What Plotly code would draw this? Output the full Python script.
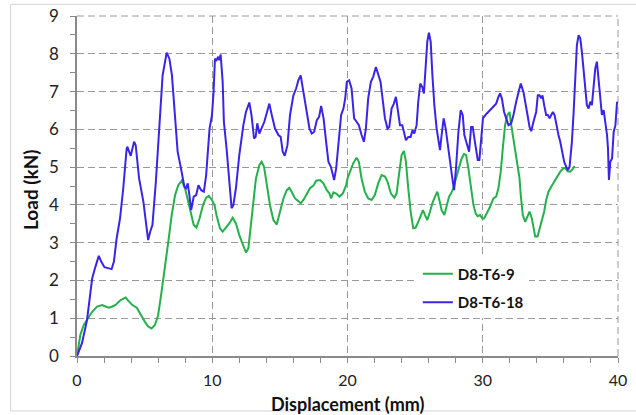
import plotly.graph_objects as go

# D8-T6-9 (green)
x_t9 = [0, 0.25, 0.5, 0.74, 1.12, 1.49, 1.86, 2.11, 2.36, 2.61, 2.85, 3.23, 3.6, 3.85, 4.09, 4.42,
        4.71, 5.01, 5.26, 5.51, 5.76, 6.0, 6.25, 6.5, 6.75, 7.0, 7.25, 7.49, 7.74, 7.99, 8.24, 8.44,
        8.63, 8.83, 9.06, 9.31, 9.55, 9.75, 9.98, 10.17, 10.32, 10.57, 10.77, 11.01, 11.26, 11.51,
        11.75, 12.0, 12.25, 12.49, 12.67, 12.84, 13.04, 13.23, 13.48, 13.65, 13.83, 14.02, 14.27,
        14.52, 14.77, 15.01, 15.26, 15.51, 15.7, 15.88, 16.12, 16.37, 16.54, 16.74, 16.99, 17.23,
        17.48, 17.68, 17.98, 18.22, 18.47, 18.67, 18.79, 18.96, 19.16, 19.41, 19.65, 19.9, 20.0,
        20.17, 20.42, 20.67, 20.84, 21.04, 21.28, 21.53, 21.78, 22.02, 22.27, 22.52, 22.77, 22.96,
        23.21, 23.46, 23.63, 23.8, 24.0, 24.17, 24.32, 24.49, 24.67, 24.86, 25.04, 25.23, 25.43,
        25.58, 25.73, 25.9, 26.1, 26.27, 26.47, 26.64, 26.79, 26.96, 27.16, 27.33, 27.51, 27.65,
        27.83, 28.02, 28.25, 28.44, 28.62, 28.77, 28.94, 29.14, 29.31, 29.48, 29.63, 29.8, 29.98,
        30.1, 30.3, 30.54, 30.79, 30.99, 31.16, 31.33, 31.48, 31.65, 31.83, 31.98, 32.07, 32.22,
        32.4, 32.57, 32.72, 32.81, 32.96, 33.14, 33.31, 33.46, 33.63, 33.75, 33.88, 34.05, 34.2,
        34.37, 34.54, 34.69, 34.86, 35.06, 35.28, 35.48, 35.73, 35.93, 36.1, 36.27, 36.47, 36.67,
        36.79]
y_t9 = [0, 0.56, 0.82, 0.95, 1.17, 1.31, 1.35, 1.31, 1.28, 1.31, 1.35, 1.48, 1.55, 1.44, 1.35, 1.28,
        1.08, 0.91, 0.78, 0.73, 0.82, 1.08, 1.7, 2.32, 3.02, 3.73, 4.26, 4.52, 4.64, 4.44, 4.08, 3.73,
        3.47, 3.4, 3.64, 3.99, 4.19, 4.24, 4.13, 3.99, 3.72, 3.38, 3.29, 3.4, 3.51, 3.66,
        3.51, 3.2, 2.94, 2.74, 2.85, 3.38, 4.08, 4.7, 5.05, 5.14, 5.01, 4.52, 3.99,
        3.6, 3.48, 3.82, 4.17, 4.39, 4.45, 4.34, 4.17, 4.1, 4.04, 4.13, 4.28, 4.44,
        4.51, 4.64, 4.66, 4.57, 4.39, 4.3, 4.17, 4.33, 4.3, 4.22, 4.3, 4.52, 4.7,
        4.88, 5.1, 5.25, 5.14, 4.7, 4.35, 4.17, 4.13, 4.26, 4.57, 4.79, 4.75, 4.61,
        4.3, 4.19, 4.3, 4.79, 5.32, 5.43, 5.14, 4.44, 3.82, 3.38, 3.4, 3.55, 3.73,
        3.86, 3.73, 3.6, 3.82, 4.04, 4.22, 4.35, 4.13, 3.86, 3.73, 3.95, 4.22, 4.3,
        4.44, 4.7, 4.96, 5.23, 5.35, 5.32, 4.96, 4.44, 4.0, 3.77, 3.7, 3.73, 3.64,
        3.64, 3.77, 3.95, 4.17, 4.22, 4.44, 4.88, 5.49, 6.11, 6.38, 6.46, 6.2, 5.85,
        5.41, 5.05, 4.7, 4.26, 3.73, 3.55, 3.69, 3.82, 3.64, 3.38, 3.16, 3.16, 3.38,
        3.55, 3.82, 4.13, 4.35, 4.48, 4.61, 4.75, 4.88, 4.96, 4.98, 4.89, 4.88, 4.96,
        5.03]

# D8-T6-18 (blue)
x_t18 = [0, 0.37, 0.74, 1.12, 1.36, 1.61, 1.79, 2.03, 2.36, 2.56, 2.73, 2.93, 3.18, 3.42, 3.67, 3.72,
         3.97, 4.22, 4.34, 4.59, 4.91, 5.09, 5.26, 5.41, 5.58, 5.83, 6.08, 6.33, 6.63, 6.83, 7.02,
         7.2, 7.44, 7.69, 7.94, 8.06, 8.19, 8.31, 8.44, 8.63, 8.81, 8.98, 9.18, 9.38, 9.55, 9.8,
         9.98, 10.1, 10.2, 10.32, 10.44, 10.52, 10.62, 10.77, 10.86, 11.06, 11.26, 11.43, 11.56,
         11.75, 12.0, 12.3, 12.49, 12.74, 12.9, 13.09, 13.21, 13.33, 13.48, 13.65, 13.85, 14.02,
         14.22, 14.4, 14.64, 14.89, 15.06, 15.21, 15.36, 15.56, 15.75, 16.0, 16.2, 16.37, 16.54,
         16.74, 16.99, 17.19, 17.36, 17.53, 17.73, 17.9, 18.05, 18.23, 18.42, 18.59, 18.77, 18.89,
         19.01, 19.16, 19.33, 19.53, 19.7, 19.83, 19.95, 20.12, 20.3, 20.49, 20.67, 20.84, 21.04,
         21.21, 21.36, 21.53, 21.73, 21.9, 22.1, 22.27, 22.44, 22.59, 22.77, 22.96, 23.09, 23.26,
         23.43, 23.58, 23.7, 23.88, 24.05, 24.17, 24.32, 24.49, 24.67, 24.81, 24.94, 25.11, 25.23,
         25.38, 25.53, 25.65, 25.78, 25.9, 26.02, 26.15, 26.27, 26.42, 26.59, 26.72, 26.84, 26.96,
         27.11, 27.26, 27.41, 27.58, 27.75, 27.88, 28.02, 28.2, 28.37, 28.52, 28.64, 28.81, 28.99,
         29.14, 29.26, 29.38, 29.51, 29.63, 29.75, 29.88, 30.02, 30.3, 30.54, 30.79, 30.99, 31.16,
         31.28, 31.41, 31.58, 31.73, 31.9, 32.1, 32.27, 32.47, 32.64, 32.81, 33.01, 33.16, 33.31,
         33.46, 33.58, 33.75, 33.95, 34.07, 34.2, 34.32, 34.42, 34.54, 34.69, 34.81, 34.94, 35.06,
         35.19, 35.31, 35.43, 35.6, 35.73, 35.85, 36.02, 36.17, 36.3, 36.42, 36.59, 36.72, 36.84,
         36.96, 37.09, 37.21, 37.33, 37.46, 37.58, 37.7, 37.83, 37.95, 38.07, 38.2, 38.32, 38.44,
         38.57, 38.69, 38.81, 38.94, 39.06, 39.19, 39.26, 39.33, 39.43, 39.56, 39.68, 39.81, 39.93]
y_t18 = [0, 0.34, 0.95, 2.05, 2.36, 2.65, 2.5, 2.35, 2.32, 2.3, 2.5, 3.11, 3.64, 4.44, 5.49, 5.54,
         5.3, 5.67, 5.58, 4.7, 4.08, 3.55, 3.07, 3.29, 3.47, 4.61, 6.11, 7.43, 8.03, 7.87, 7.43,
         6.64, 5.41, 4.96, 4.48, 4.44, 4.57, 4.26, 3.86, 4.22, 4.26, 4.52, 4.39, 4.35, 4.79, 6.02,
         6.38, 7.0, 7.87, 7.83, 7.92, 7.83, 7.98, 7.26, 6.2, 5.49, 4.61, 3.91, 3.99,
         4.44, 5.32, 6.11, 6.46, 6.71, 6.38, 5.76, 5.8, 6.16, 5.89, 6.02, 6.2, 6.42,
         6.68, 6.38, 6.02, 5.85, 5.8, 5.41, 5.3, 5.58, 6.38, 6.9, 7.08, 7.3, 7.43,
         6.99, 6.46, 6.02, 5.89, 5.93, 6.24, 6.33, 6.62, 6.29, 5.67, 5.14, 5.01, 4.79,
         4.66, 4.96, 5.67, 6.38, 6.55, 6.82, 7.26, 7.3, 7.08, 6.29, 6.2, 6.11, 5.85,
         5.67, 6.02, 6.82, 7.26, 7.39, 7.65, 7.48, 7.26, 6.82, 6.29, 6.02, 6.06, 6.55,
         6.68, 6.86, 6.51, 6.11, 6.11, 5.89, 5.71, 5.8, 5.8, 5.98, 5.89, 6.11, 6.73,
         7.21, 7.12, 6.95, 7.7, 8.32, 8.56, 8.32, 7.48, 6.64, 6.02, 5.67, 5.45, 5.85,
         6.29, 6.02, 5.58, 5.14, 4.7, 4.39, 4.96, 5.93, 6.51, 6.38, 5.85, 5.63, 5.41,
         6.06, 6.06, 5.76, 5.49, 5.19, 5.19, 5.67, 6.3, 6.42, 6.51, 6.6, 6.68, 6.86,
         6.95, 6.82, 6.46, 6.29, 6.11, 6.16, 6.38, 6.73, 6.99, 7.21, 6.99, 6.73, 6.38,
         6.06, 5.95, 6.2, 6.46, 6.9, 6.9, 6.82, 6.9, 6.64, 6.38, 6.38, 6.29, 6.38,
         6.46, 6.38, 6.11, 5.85, 5.67, 5.41, 5.14, 5.01, 4.92, 5.01, 5.67, 6.46, 7.52,
         8.23, 8.49, 8.41, 8.05, 7.61, 7.08, 6.64, 6.55, 6.73, 6.64, 7.26, 7.61, 7.79,
         7.26, 6.73, 6.38, 6.51, 6.2, 5.85, 5.49, 4.66, 5.14, 5.23, 5.93, 6.11, 6.73]

x_ticks = [0, 10, 20, 30, 40]
y_ticks = [0, 1, 2, 3, 4, 5, 6, 7, 8, 9]
x_title = "Displacement (mm)"
y_title = "Load (kN)"

BLUE = "#3a24e8"
GREEN = "#24b14c"
FONT = "Lato"
GRIDC = "#9a9a9a"
GRIDDASH = "7px,4px"

fig = go.Figure()
fig.add_trace(go.Scatter(x=x_t9, y=y_t9, mode="lines", name="D8-T6-9",
                         line=dict(color=GREEN, width=2), legendgroup="a"))
fig.add_trace(go.Scatter(x=x_t18, y=y_t18, mode="lines", name="D8-T6-18",
                         line=dict(color=BLUE, width=2), legendgroup="b"))

grid = dict(showgrid=True, gridcolor=GRIDC, griddash=GRIDDASH, gridwidth=1)

fig.update_xaxes(range=[0, 40], tickvals=x_ticks, **grid, automargin=False,
                 showline=True, linecolor="#8a8a8a", linewidth=1.5,
                 ticks="outside", ticklen=5, tickcolor="#8a8a8a",
                 minor=dict(dtick=2, ticks="outside", ticklen=5, tickcolor="#8a8a8a", showgrid=False),
                 zeroline=False, ticklabelstandoff=4,
                 tickfont=dict(family=FONT, size=16, color="#222"))
fig.update_yaxes(range=[0, 9], tickvals=y_ticks, **grid, automargin=False,
                 showline=True, linecolor="#8a8a8a", linewidth=1.5,
                 ticks="outside", ticklen=5, tickcolor="#8a8a8a",
                 minor=dict(dtick=0.5, ticks="outside", ticklen=5, tickcolor="#8a8a8a", showgrid=False),
                 zeroline=False, ticklabelstandoff=8,
                 tickfont=dict(family=FONT, size=17, color="#222"))

# axis titles
fig.add_annotation(text="<b>%s</b>" % x_title, xref="paper", yref="paper", x=0.5, y=-0.141,
                   xanchor="center", yanchor="middle", showarrow=False,
                   font=dict(family=FONT, size=18, color="#111"))
fig.add_annotation(text="<b>%s</b>" % y_title, xref="paper", yref="paper", x=-0.0857, y=0.49,
                   xanchor="center", yanchor="middle", showarrow=False, textangle=-90,
                   font=dict(family=FONT, size=19, color="#111"))

# dashed grid lines along the top and right edges of the plot area
fig.add_shape(type="line", xref="paper", yref="paper", x0=0, x1=1, y0=1, y1=1,
              line=dict(color=GRIDC, width=1, dash=GRIDDASH), layer="below")
fig.add_shape(type="line", xref="paper", yref="paper", x0=1, x1=1, y0=0, y1=1,
              line=dict(color=GRIDC, width=1, dash=GRIDDASH), layer="below")

# outer chart frame
fig.add_shape(type="rect", xref="paper", yref="paper", x0=-0.1227, x1=1.0391, y0=-0.1616, y1=1.0344,
              line=dict(color="#d4d4d4", width=1), layer="below")

fig.update_layout(
    width=636, height=415,
    margin=dict(l=77, r=18, t=16, b=59, autoexpand=False),
    paper_bgcolor="white", plot_bgcolor="white",
    showlegend=True,
    legend=dict(x=0.63, y=0.29, xanchor="left", yanchor="top", bgcolor="white",
                traceorder="grouped", tracegroupgap=6, itemwidth=30,
                font=dict(family=FONT, size=15, color="#111", weight="bold"), borderwidth=0),
)

fig.write_html("out.html")
